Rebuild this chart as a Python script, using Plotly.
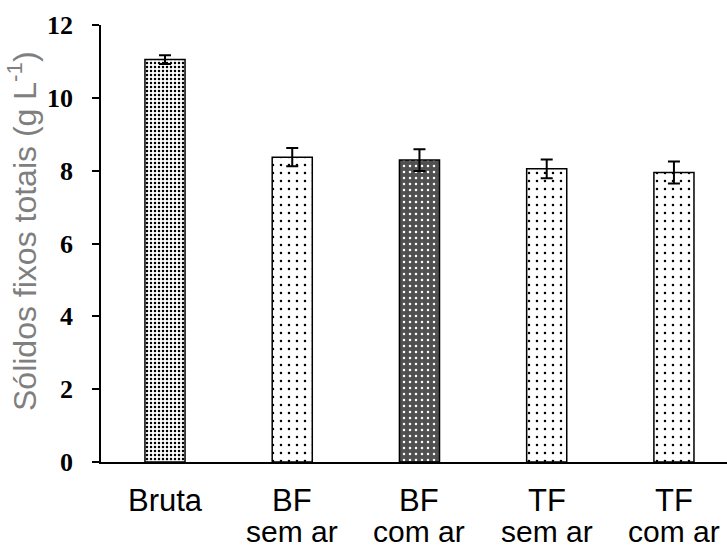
import plotly.graph_objects as go

categories = ["Bruta", "BF sem ar", "BF com ar", "TF sem ar", "TF com ar"]
label_line1 = ["Bruta", "BF", "BF", "TF", "TF"]
label_line2 = ["", "sem ar", "com ar", "sem ar", "com ar"]
values = [11.05, 8.37, 8.29, 8.05, 7.95]
errors = [0.12, 0.25, 0.30, 0.26, 0.30]
y_ticks = [0, 2, 4, 6, 8, 10, 12]

pat_size = [4, 8, 6, 8, 8]
pat_solidity = [0.3, 0.08, 0.14, 0.08, 0.08]
pat_fg = ["black", "black", "white", "black", "black"]
pat_bg = ["white", "white", "#505050", "white", "white"]

fig = go.Figure()
fig.add_trace(go.Bar(
    x=categories, y=values, width=0.315,
    marker=dict(
        color="white",
        line=dict(color="black", width=1.5),
        pattern=dict(shape=".", size=pat_size, solidity=pat_solidity,
                     fgcolor=pat_fg, bgcolor=pat_bg, fillmode="replace"),
    ),
    error_y=dict(type="data", array=errors, visible=True,
                 color="black", thickness=2, width=6),
    showlegend=False,
))

annotations = []
for c, l1, l2 in zip(categories, label_line1, label_line2):
    annotations.append(dict(x=c, xref="x", y=-0.087, yref="paper", text=l1,
                            showarrow=False, yanchor="middle", xanchor="center",
                            font=dict(family="Liberation Sans, Arial", size=31, color="black")))
    if l2:
        annotations.append(dict(x=c, xref="x", y=-0.158, yref="paper", text=l2,
                                showarrow=False, yanchor="middle", xanchor="center",
                                font=dict(family="Liberation Sans, Arial", size=30, color="black")))
annotations.append(dict(x=-0.125, xref="paper", y=0.528, yref="paper",
                        text="Sólidos fixos totais (g L<sup>-1</sup>)",
                        textangle=-90, showarrow=False, xanchor="center", yanchor="middle",
                        font=dict(family="Liberation Sans, Arial", size=32, color="#7f7f7f")))

fig.update_layout(
    width=727, height=549,
    margin=dict(l=101, r=0, t=25, b=87),
    paper_bgcolor="white", plot_bgcolor="white",
    annotations=annotations,
    xaxis=dict(type="category", range=[-0.503, 4.417], showticklabels=False,
               showline=True, linecolor="black", linewidth=1.5, ticks="",
               showgrid=False, zeroline=False),
    yaxis=dict(range=[0, 12], tickvals=y_ticks, ticks="outside", ticklen=7,
               tickwidth=1.5, tickcolor="black", showline=True, linecolor="black",
               linewidth=1.5, showgrid=False, zeroline=False, ticklabelstandoff=14,
               tickfont=dict(family="Liberation Serif, Times New Roman", size=26,
                             color="black", weight="bold")),
)

fig.write_html("out.html")
